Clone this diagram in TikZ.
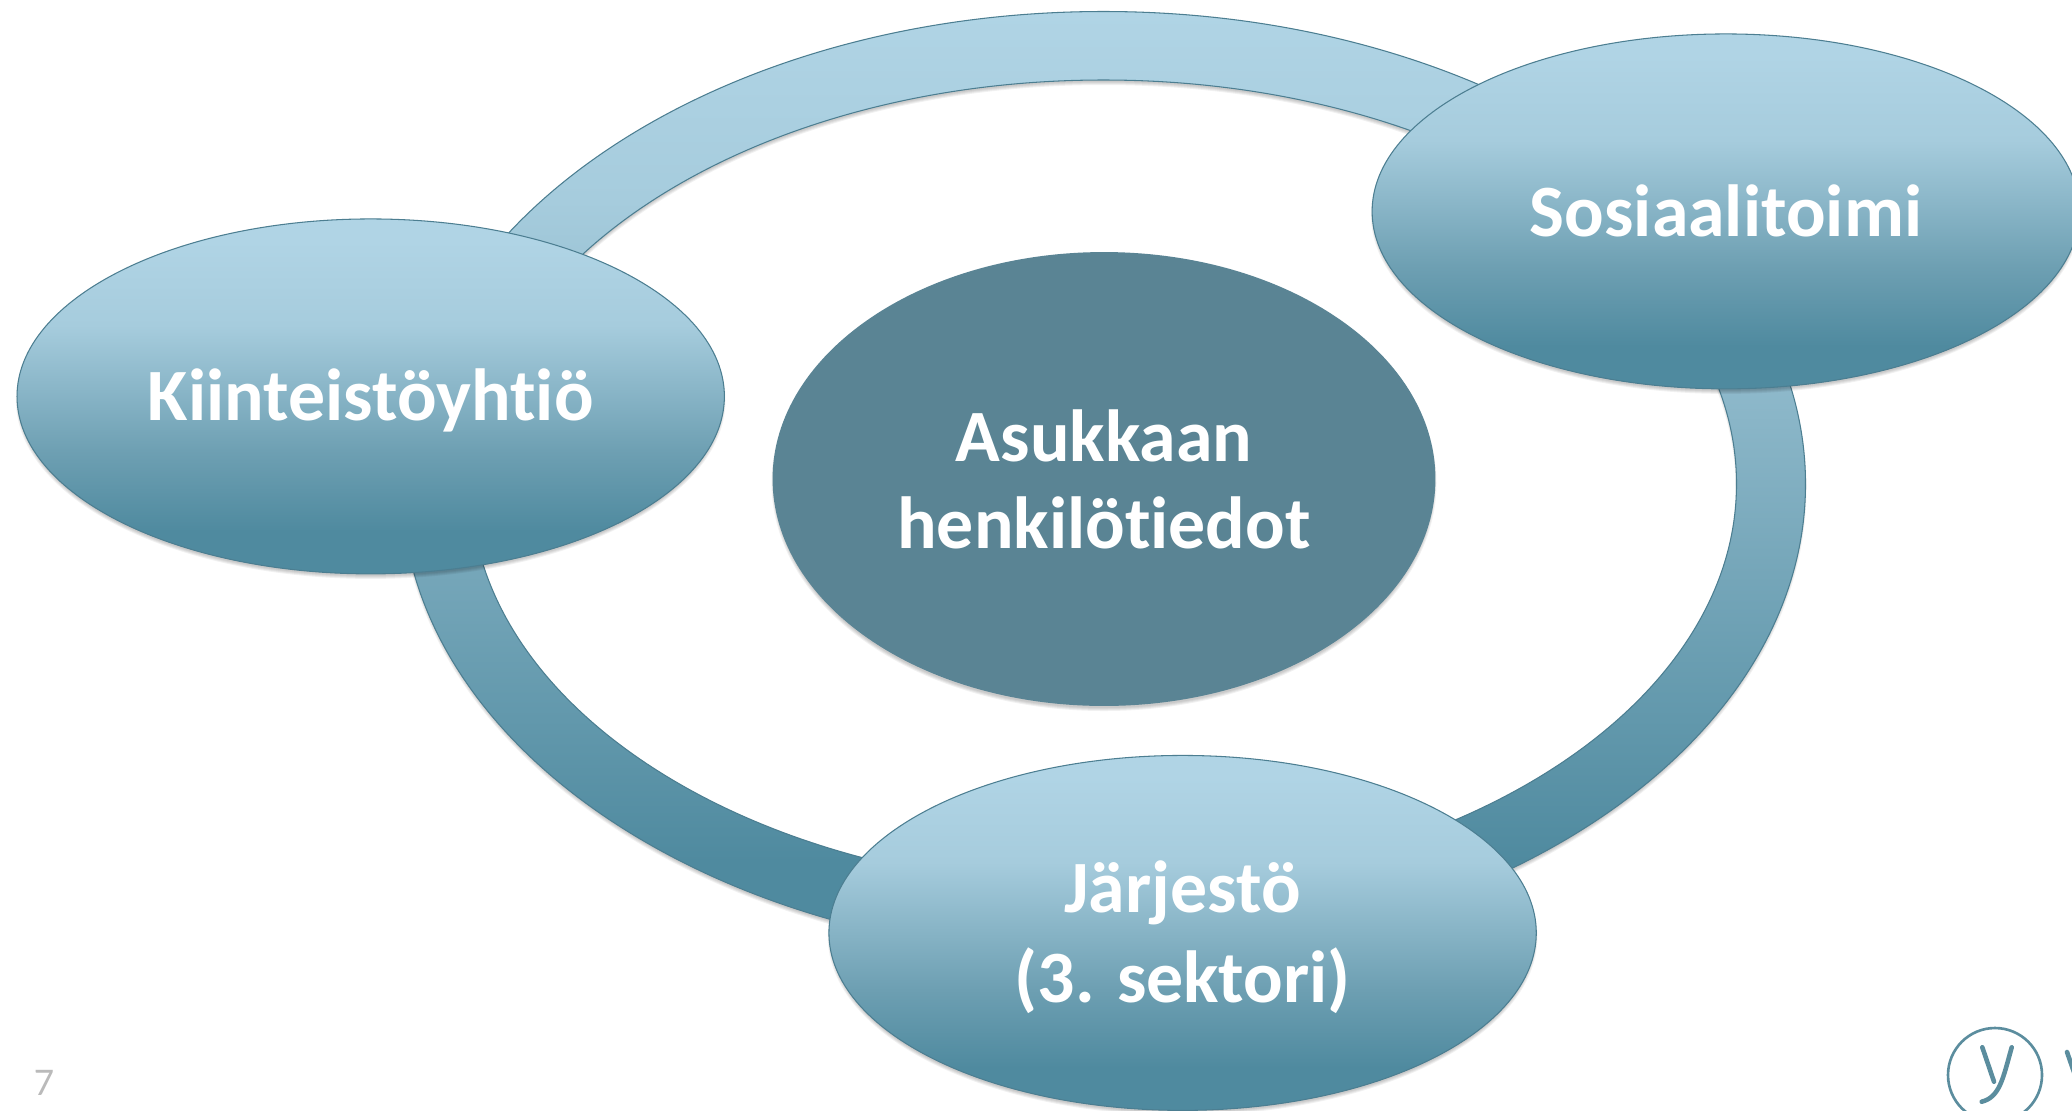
\documentclass[tikz,border=0pt]{standalone}
\usepackage{fontspec}
\setmainfont{Carlito}[Ligatures=NoCommon]
\newfontfamily\numfont{Lato}
\usetikzlibrary{shapes.geometric}
\definecolor{etop}{HTML}{B0D4E5}
\definecolor{emida}{HTML}{A6CCDD}
\definecolor{emidb}{HTML}{6D9FB2}
\definecolor{ebot}{HTML}{4F8A9F}
\definecolor{hub}{HTML}{5A8494}
\definecolor{stk}{HTML}{4C7E91}
\definecolor{logoc}{HTML}{5B8D9E}
\pgfdeclareverticalshading{ellshade}{100bp}{color(0bp)=(ebot); color(25bp)=(ebot); color(31bp)=(ebot); color(42bp)=(emidb); color(60bp)=(emida); color(72bp)=(etop); color(75bp)=(etop); color(100bp)=(etop)}
\pgfdeclareverticalshading{ringshade}{100bp}{color(0bp)=(ebot); color(25bp)=(ebot); color(30bp)=(ebot); color(50bp)=(emidb!65!emida); color(65bp)=(emida); color(75bp)=(etop); color(100bp)=(etop)}
\tikzset{
  blob/.style={ellipse, inner sep=0pt, minimum width=14.15cm, minimum height=7.1cm, draw=stk, line width=0.6pt, shading=ellshade},
  hubblob/.style={ellipse, inner sep=0pt, minimum width=13.26cm, minimum height=9.08cm, fill=hub},
  caption/.style={inner sep=0pt, text=white, align=center, font=\fontsize{42}{49.5}\selectfont\bfseries},
  ringband/.style={draw=stk, line width=0.6pt, shading=ringshade, even odd rule},
  logoline/.style={draw=logoc, line cap=round, line width=2.6pt}
}
\newcommand{\softshade}[4]{%
  \foreach \r in {1,0,-1,-2}{\fill[black,opacity=0.055] (#1,#2+4) ellipse ({#3+\r} and {#4+\r});}}
\begin{document}
\begin{tikzpicture}[x=0.02cm,y=-0.02cm]
\useasboundingbox (0,0) rectangle (2072,1110);
\clip (0,0) rectangle (2072,1110);
\fill[white] (0,0) rectangle (2072,1110);
% ring shadow
\foreach \r in {1,0,-1,-2}{
  \fill[black,opacity=0.055,even odd rule] (1103.5,488) ellipse ({702+\r} and {472.5+\r}) (1103.5,488) ellipse ({633-\r} and {404-\r});
}
\path[ringband] (1103.5,484) ellipse (702 and 472.5) (1103.5,484) ellipse (633 and 404);
% shadows of the ellipses
\softshade{1104}{479}{331.5}{227}
\softshade{370.7}{396.4}{353.8}{177.5}
\softshade{1725.8}{211.4}{353.8}{177.5}
\softshade{1182.6}{932.9}{353.8}{177.5}
\node[hubblob] (hub) at (1104,479) {};
\node[blob] (kiint) at (370.7,396.4) {};
\node[blob] (sos) at (1725.8,211.4) {};
\node[blob] (jarj) at (1182.6,932.9) {};
\node[caption] (hubtext) at (1104,479) {Asukkaan\\henkilötiedot};
\node[caption] (kiinttext) at (370.7,400.5) {Kiinteistöyhtiö};
\node[caption] (sostext) at (1725.8,211) {Sosiaalitoimi};
\node[caption] (jarjtext) at (1182.6,937) {Järjestö\\[1.6pt](3. sektori)};
\node[text=black!27, font=\numfont\fontsize{20}{24}\selectfont, inner sep=0pt] (pagenum) at (44,1082.5) {7};
% logo
\draw[logoc, line width=1.5pt] (1995,1075) circle (47);
\draw[logoline] (1982.3,1047.3) -- (1994,1081.7);
\draw[logoline] (2011.7,1047.3) .. controls (2003,1078) and (2000,1097) .. (1981.7,1101.7);
\draw[logoline] (2067,1052) -- (2076,1078);
\end{tikzpicture}
\end{document}
